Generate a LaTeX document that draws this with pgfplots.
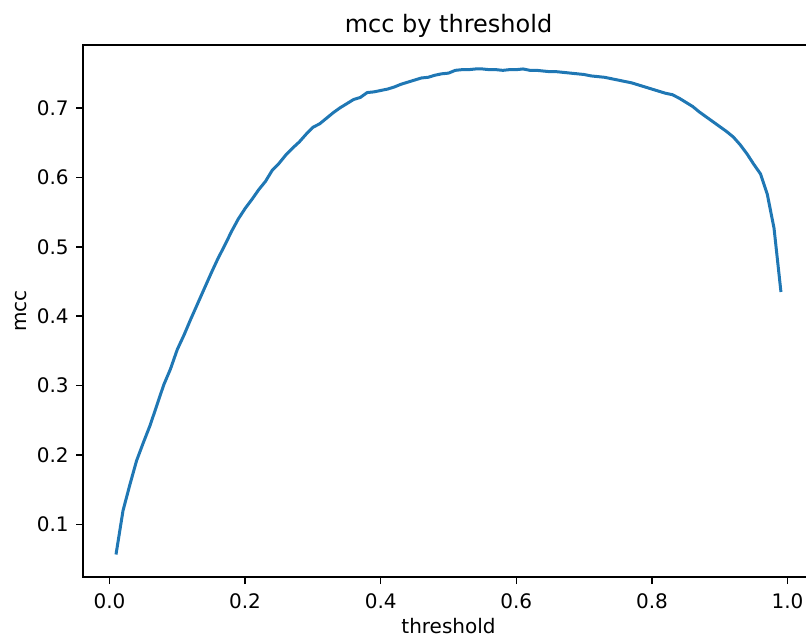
\documentclass[border=0pt]{standalone}
\usepackage{fontspec}
\setmainfont{DejaVu Sans}
\usepackage{pgfplots}
\pgfplotsset{compat=1.18}
\usepackage{pgfplotstable}

\definecolor{mplblue}{RGB}{31,119,180}

\pgfplotstableread{
x y
0.01 0.059
0.02 0.120
0.03 0.157
0.04 0.192
0.05 0.218
0.06 0.243
0.07 0.272
0.08 0.301
0.09 0.324
0.10 0.352
0.11 0.373
0.12 0.396
0.13 0.418
0.14 0.440
0.15 0.462
0.16 0.483
0.17 0.502
0.18 0.522
0.19 0.540
0.20 0.555
0.21 0.568
0.22 0.582
0.23 0.594
0.24 0.610
0.25 0.620
0.26 0.632
0.27 0.642
0.28 0.651
0.29 0.662
0.30 0.672
0.31 0.677
0.32 0.685
0.33 0.693
0.34 0.700
0.35 0.706
0.36 0.712
0.37 0.715
0.38 0.722
0.39 0.723
0.40 0.725
0.41 0.727
0.42 0.730
0.43 0.734
0.44 0.737
0.45 0.740
0.46 0.743
0.47 0.744
0.48 0.747
0.49 0.749
0.50 0.750
0.51 0.754
0.52 0.755
0.53 0.755
0.54 0.756
0.55 0.756
0.56 0.755
0.57 0.755
0.58 0.754
0.59 0.755
0.60 0.755
0.61 0.756
0.62 0.754
0.63 0.754
0.64 0.753
0.65 0.752
0.66 0.752
0.67 0.751
0.68 0.750
0.69 0.749
0.70 0.748
0.71 0.746
0.72 0.745
0.73 0.744
0.74 0.742
0.75 0.740
0.76 0.738
0.77 0.736
0.78 0.733
0.79 0.730
0.80 0.727
0.81 0.724
0.82 0.721
0.83 0.719
0.84 0.714
0.85 0.708
0.86 0.702
0.87 0.694
0.88 0.687
0.89 0.680
0.90 0.673
0.91 0.666
0.92 0.658
0.93 0.647
0.94 0.634
0.95 0.619
0.96 0.605
0.97 0.576
0.98 0.527
0.99 0.437
}\mcc

\begin{document}
\begin{tikzpicture}
\begin{axis}[
    name=ax,
    scale only axis,
    width=365.5pt, height=266pt,
    xmin=-0.039, xmax=1.039,
    ymin=0.0245, ymax=0.7905,
    xtick={0,0.2,0.4,0.6,0.8,1.0},
    ytick={0.1,0.2,0.3,0.4,0.5,0.6,0.7},
    tick align=outside,
    tick pos=left,
    major tick length=3.5pt,
    every tick/.style={black, line width=0.8pt},
    axis line style={line width=0.8pt},
    /pgf/number format/.cd, fixed, fixed zerofill, precision=1, assume math mode=true,
    /pgfplots/.cd,
    xticklabel style={anchor=north, inner sep=0pt, yshift=-4.5pt, font=\fontsize{10}{12}\selectfont},
    yticklabel style={anchor=east, inner sep=0pt, xshift=-3.5pt, font=\fontsize{10}{12}\selectfont},
    title={mcc by threshold},
    title style={at={(axis description cs:0.5,1)}, anchor=base, inner sep=0pt, font=\fontsize{12}{14}\selectfont},
    xlabel={threshold},
    xlabel style={at={(axis description cs:0.5,-0.1071)}, anchor=base, inner sep=0pt, font=\fontsize{10}{12}\selectfont},
    ylabel={mcc},
    ylabel style={at={(axis description cs:-0.0773,0.5)}, anchor=base, inner sep=0pt, font=\fontsize{10}{12}\selectfont},
]
\addplot[mplblue, line width=1.5pt, line join=round, line cap=rect] table[x=x, y=y] {\mcc};
\end{axis}
\pgfresetboundingbox
\path ([shift={(-41.5pt,-33pt)}]ax.south west) rectangle ([shift={(361.5pt,288.5pt)}]ax.south west);
\end{tikzpicture}
\end{document}
